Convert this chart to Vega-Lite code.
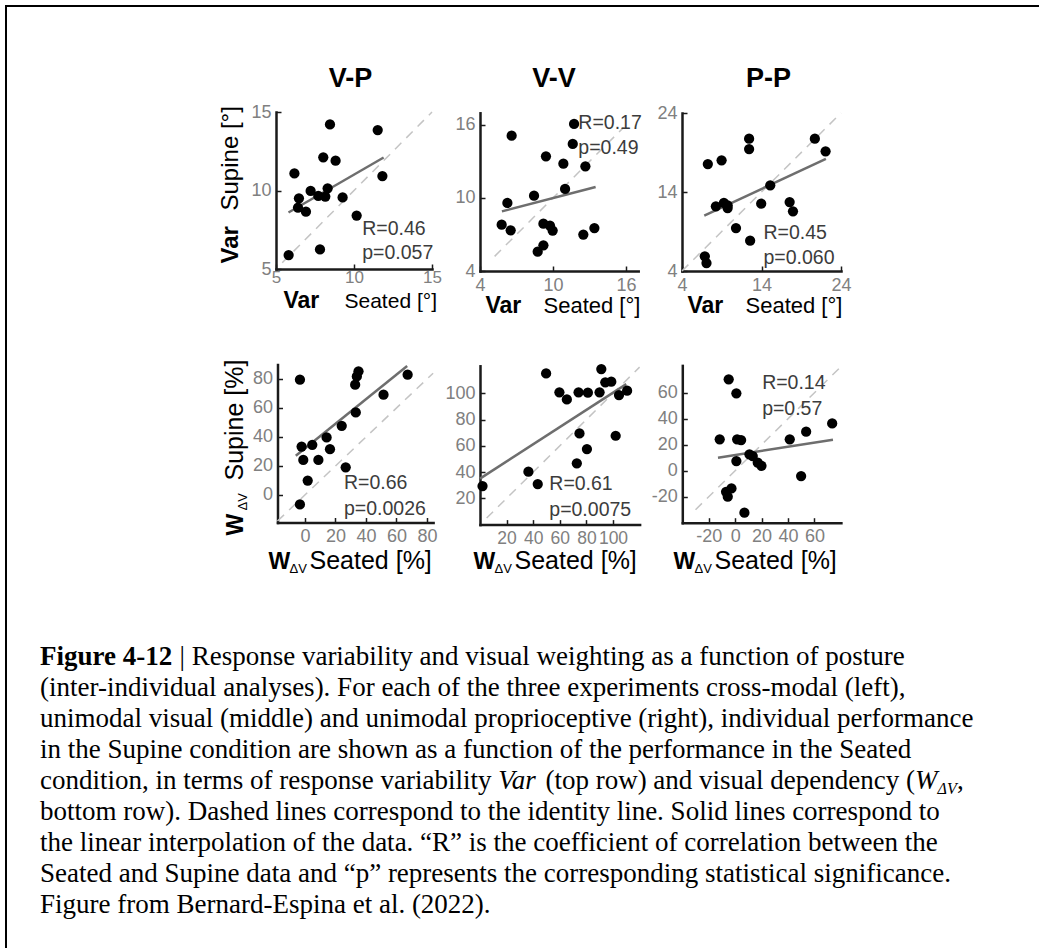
{
"$schema": "https://vega.github.io/schema/vega-lite/v6.json",
"width": 1033, "height": 942,
"autosize": {"type": "none"},
"padding": {"left": 6, "top": 6, "right": 0, "bottom": 0},
"background": "white",
"view": {"stroke": "black", "strokeWidth": 2, "strokeDash": [1033, 1975, 942, 10]},
"config": {
  "axis": {"grid": false, "domainColor": "#1a1a1a", "domainWidth": 2.5, "domainCap": "square", "tickColor": "#1a1a1a", "tickWidth": 1.5, "tickSize": -5, "labelColor": "#808080", "labelFont": "Liberation Sans", "labelFontSize": 18, "labelFlush": false, "labelOverlap": false, "labelPadding": 10, "labelExpr": "replace(datum.label, '\u2212', '-')", "titleFont": "Liberation Sans", "titleColor": "black", "titleFontWeight": "normal", "titleAlign": "left", "titleBaseline": "alphabetic"},
  "text": {"font": "Liberation Sans"}
},
"datasets": {
  "pts": [
    {"panel":"VP","seated":8.46,"supine":14.21},{"panel":"VP","seated":11.52,"supine":13.85},{"panel":"VP","seated":8.03,"supine":12.11},{"panel":"VP","seated":8.82,"supine":11.9},{"panel":"VP","seated":6.18,"supine":11.09},{"panel":"VP","seated":11.82,"supine":10.92},{"panel":"VP","seated":7.22,"supine":9.97},{"panel":"VP","seated":8.31,"supine":10.14},{"panel":"VP","seated":7.71,"supine":9.65},{"panel":"VP","seated":8.16,"supine":9.61},{"panel":"VP","seated":6.47,"supine":9.5},{"panel":"VP","seated":9.27,"supine":9.56},{"panel":"VP","seated":6.41,"supine":8.91},{"panel":"VP","seated":6.92,"supine":8.65},{"panel":"VP","seated":10.17,"supine":8.4},{"panel":"VP","seated":7.82,"supine":6.25},{"panel":"VP","seated":5.81,"supine":5.89},
    {"panel":"VV","seated":11.73,"supine":16.08},{"panel":"VV","seated":6.6,"supine":15.12},{"panel":"VV","seated":11.62,"supine":14.44},{"panel":"VV","seated":9.42,"supine":13.42},{"panel":"VV","seated":10.85,"supine":12.82},{"panel":"VV","seated":12.66,"supine":12.6},{"panel":"VV","seated":10.99,"supine":10.74},{"panel":"VV","seated":8.44,"supine":10.19},{"panel":"VV","seated":6.25,"supine":9.59},{"panel":"VV","seated":5.78,"supine":7.81},{"panel":"VV","seated":6.52,"supine":7.34},{"panel":"VV","seated":9.21,"supine":7.89},{"panel":"VV","seated":9.75,"supine":7.73},{"panel":"VV","seated":9.97,"supine":7.32},{"panel":"VV","seated":12.49,"supine":6.99},{"panel":"VV","seated":13.4,"supine":7.53},{"panel":"VV","seated":9.21,"supine":6.11},{"panel":"VV","seated":8.74,"supine":5.59},
    {"panel":"PP","seated":12.44,"supine":20.75},{"panel":"PP","seated":12.44,"supine":19.44},{"panel":"PP","seated":20.71,"supine":20.75},{"panel":"PP","seated":22.06,"supine":19.15},{"panel":"PP","seated":7.25,"supine":17.54},{"panel":"PP","seated":8.98,"supine":18.01},{"panel":"PP","seated":15.1,"supine":14.84},{"panel":"PP","seated":8.26,"supine":12.19},{"panel":"PP","seated":9.27,"supine":12.61},{"panel":"PP","seated":9.74,"supine":12.31},{"panel":"PP","seated":9.74,"supine":11.97},{"panel":"PP","seated":13.96,"supine":12.52},{"panel":"PP","seated":17.54,"supine":12.73},{"panel":"PP","seated":17.96,"supine":11.55},{"panel":"PP","seated":10.79,"supine":9.44},{"panel":"PP","seated":12.57,"supine":7.84},{"panel":"PP","seated":6.87,"supine":5.86},{"panel":"PP","seated":7.08,"supine":5.01},
    {"panel":"BL","seated":-3.3,"supine":79.5},{"panel":"BL","seated":35.1,"supine":85.3},{"panel":"BL","seated":34.0,"supine":81.8},{"panel":"BL","seated":32.9,"supine":76.1},{"panel":"BL","seated":67.3,"supine":83.0},{"panel":"BL","seated":51.5,"supine":69.2},{"panel":"BL","seated":33.3,"supine":56.9},{"panel":"BL","seated":24.1,"supine":47.7},{"panel":"BL","seated":-2.2,"supine":33.4},{"panel":"BL","seated":4.8,"supine":34.6},{"panel":"BL","seated":14.2,"supine":39.7},{"panel":"BL","seated":16.4,"supine":31.6},{"panel":"BL","seated":-1.1,"supine":24.2},{"panel":"BL","seated":8.8,"supine":24.2},{"panel":"BL","seated":26.7,"supine":19.1},{"panel":"BL","seated":1.8,"supine":9.9},{"panel":"BL","seated":-3.3,"supine":-6.5},
    {"panel":"BM","seated":49.7,"supine":115.2},{"panel":"BM","seated":91.2,"supine":118.5},{"panel":"BM","seated":94.2,"supine":108.4},{"panel":"BM","seated":98.7,"supine":108.9},{"panel":"BM","seated":59.7,"supine":100.8},{"panel":"BM","seated":65.3,"supine":95.4},{"panel":"BM","seated":74.1,"supine":100.8},{"panel":"BM","seated":81.1,"supine":100.5},{"panel":"BM","seated":89.9,"supine":100.8},{"panel":"BM","seated":110.6,"supine":102.0},{"panel":"BM","seated":104.5,"supine":98.7},{"panel":"BM","seated":74.8,"supine":69.5},{"panel":"BM","seated":102.0,"supine":67.7},{"panel":"BM","seated":80.4,"supine":57.6},{"panel":"BM","seated":72.8,"supine":46.7},{"panel":"BM","seated":36.4,"supine":40.3},{"panel":"BM","seated":43.4,"supine":30.9},{"panel":"BM","seated":1.9,"supine":29.4},
    {"panel":"BR","seated":-4.9,"supine":70.3},{"panel":"BR","seated":0.9,"supine":59.5},{"panel":"BR","seated":-11.7,"supine":24.1},{"panel":"BR","seated":1.5,"supine":24.1},{"panel":"BR","seated":4.5,"supine":23.6},{"panel":"BR","seated":0.9,"supine":7.4},{"panel":"BR","seated":10.8,"supine":12.6},{"panel":"BR","seated":13.3,"supine":11.3},{"panel":"BR","seated":17.1,"supine":6.2},{"panel":"BR","seated":19.9,"supine":3.8},{"panel":"BR","seated":41.3,"supine":24.1},{"panel":"BR","seated":53.7,"supine":30.0},{"panel":"BR","seated":73.4,"supine":36.4},{"panel":"BR","seated":49.9,"supine":-4.1},{"panel":"BR","seated":-2.8,"supine":-13.6},{"panel":"BR","seated":-6.9,"supine":-16.2},{"panel":"BR","seated":-5.6,"supine":-20.0},{"panel":"BR","seated":7.0,"supine":-32.3}
  ],
  "fit": [
    {"panel":"VP","seated":5.8,"supine":8.6},{"panel":"VP","seated":11.9,"supine":12.1},
    {"panel":"VV","seated":5.8,"supine":8.9},{"panel":"VV","seated":13.5,"supine":10.9},
    {"panel":"PP","seated":6.8,"supine":11.0},{"panel":"PP","seated":22.1,"supine":18.2},
    {"panel":"BL","seated":-6,"supine":27},{"panel":"BL","seated":67,"supine":89},
    {"panel":"BM","seated":0,"supine":35},{"panel":"BM","seated":110,"supine":107},
    {"panel":"BR","seated":-13,"supine":10},{"panel":"BR","seated":74,"supine":23.8}
  ],
  "ident": [
    {"panel":"VP","seated":5.4,"supine":5.4},{"panel":"VP","seated":15,"supine":15},
    {"panel":"VV","seated":5.2,"supine":5.2},{"panel":"VV","seated":15.8,"supine":15.8},
    {"panel":"PP","seated":4,"supine":4},{"panel":"PP","seated":24,"supine":24},
    {"panel":"BL","seated":-18,"supine":-18},{"panel":"BL","seated":84,"supine":84},
    {"panel":"BM","seated":5,"supine":5},{"panel":"BM","seated":120,"supine":120},
    {"panel":"BR","seated":-30,"supine":-30},{"panel":"BR","seated":80,"supine":80}
  ],
  "stats": [
    {"panel":"VP","label":"R=0.46\np=0.057"},
    {"panel":"VV","label":"R=0.17\np=0.49"},
    {"panel":"PP","label":"R=0.45\np=0.060"},
    {"panel":"BL","label":"R=0.66\np=0.0026"},
    {"panel":"BM","label":"R=0.61\np=0.0075"},
    {"panel":"BR","label":"R=0.14\np=0.57"}
  ],
  "caption": [
    {"line":1,"part":"bold","text":"Figure 4-12"},
    {"line":1,"part":"after","text":"| Response variability and visual weighting as a function of posture"},
    {"line":2,"part":"plain","text":"(inter-individual analyses). For each of the three experiments cross-modal (left),"},
    {"line":3,"part":"plain","text":"unimodal visual (middle) and unimodal proprioceptive (right), individual performance"},
    {"line":4,"part":"plain","text":"in the Supine condition are shown as a function of the performance in the Seated"},
    {"line":5,"part":"plain","text":"condition, in terms of response variability"},
    {"line":5,"part":"var","text":"Var"},
    {"line":5,"part":"mid","text":"(top row) and visual dependency ("},
    {"line":5,"part":"w","text":"W"},
    {"line":5,"part":"sub","text":"ΔV"},
    {"line":5,"part":"end","text":","},
    {"line":6,"part":"plain","text":"bottom row). Dashed lines correspond to the identity line. Solid lines correspond to"},
    {"line":7,"part":"plain","text":"the linear interpolation of the data. “R” is the coefficient of correlation between the"},
    {"line":8,"part":"plain","text":"Seated and Supine data and “p” represents the corresponding statistical significance."},
    {"line":9,"part":"plain","text":"Figure from Bernard-Espina et al. (2022)."}
  ]
},
"layer": [
  {
    "layer": [
      {"data": {"name": "ident"}, "transform": [{"filter": "datum.panel === 'VP'"}],
       "mark": {"type": "line", "color": "#c4c4c4", "strokeWidth": 1.5, "strokeDash": [9, 7]},
       "encoding": {
         "x": {"field": "seated", "type": "quantitative", "scale": {"domain": [5, 15], "range": [270, 426], "nice": false, "zero": false}, "axis": {"orient": "bottom", "offset": -679, "values": [5, 10, 15], "labelPadding": 5.5, "labelFontSize": 17, "title": "Seated [°]", "titleX": 338, "titleY": 38.5, "titleFontSize": 21}},
         "y": {"field": "supine", "type": "quantitative", "scale": {"domain": [5, 15], "range": [263, 106], "nice": false, "zero": false}, "axis": {"orient": "left", "offset": -270, "values": [5, 10, 15], "title": "Supine [°]", "titleX": -39, "titleY": 204, "titleFontSize": 24}}
       }},
      {"data": {"name": "fit"}, "transform": [{"filter": "datum.panel === 'VP'"}],
       "mark": {"type": "line", "color": "#6e6e6e", "strokeWidth": 2.5},
       "encoding": {
         "x": {"field": "seated", "type": "quantitative", "scale": {"domain": [5, 15], "range": [270, 426], "nice": false, "zero": false}, "axis": {"orient": "bottom", "offset": -679, "labels": false, "ticks": false, "domain": false, "title": "Var", "titleX": 277, "titleY": 38.5, "titleFontSize": 23, "titleFontWeight": "bold"}},
         "y": {"field": "supine", "type": "quantitative", "scale": {"domain": [5, 15], "range": [263, 106], "nice": false, "zero": false}, "axis": {"orient": "left", "offset": -270, "labels": false, "ticks": false, "domain": false, "title": "Var", "titleX": -39, "titleY": 257, "titleFontSize": 24, "titleFontWeight": "bold"}}
       }},
      {"data": {"name": "pts"}, "transform": [{"filter": "datum.panel === 'VP'"}],
       "mark": {"type": "point", "filled": true, "color": "black", "opacity": 1, "size": 105},
       "encoding": {
         "x": {"field": "seated", "type": "quantitative", "scale": {"domain": [5, 15], "range": [270, 426], "nice": false, "zero": false}, "axis": {"orient": "bottom", "offset": -679, "labels": false, "ticks": false, "domain": false, "title": "V-P", "titleX": 344, "titleY": -182.3, "titleFontSize": 27, "titleFontWeight": "bold", "titleAlign": "center"}},
         "y": {"field": "supine", "type": "quantitative", "scale": {"domain": [5, 15], "range": [263, 106], "nice": false, "zero": false}, "axis": null}
       }},
      {"data": {"name": "stats"}, "transform": [{"filter": "datum.panel === 'VP'"}],
       "mark": {"type": "text", "align": "left", "baseline": "alphabetic", "fontSize": 19.5, "color": "#3c3c3c", "lineBreak": "\n", "lineHeight": 24.5},
       "encoding": {
         "x": {"datum": 10.53, "type": "quantitative", "scale": {"domain": [5, 15], "range": [270, 426], "nice": false, "zero": false}, "axis": null},
         "y": {"datum": 7.17, "type": "quantitative", "scale": {"domain": [5, 15], "range": [263, 106], "nice": false, "zero": false}, "axis": null},
         "text": {"field": "label"}
       }}
    ],
    "resolve": {"axis": {"x": "independent", "y": "independent"}}
  },
  {
    "layer": [
      {"data": {"name": "ident"}, "transform": [{"filter": "datum.panel === 'VV'"}],
       "mark": {"type": "line", "color": "#c4c4c4", "strokeWidth": 1.5, "strokeDash": [9, 7]},
       "encoding": {
         "x": {"field": "seated", "type": "quantitative", "scale": {"domain": [4, 17], "range": [474, 632.2], "nice": false, "zero": false}, "axis": {"orient": "bottom", "offset": -677, "values": [4, 10, 16], "title": "Seated [°]", "titleX": 537, "titleY": 41, "titleFontSize": 22}},
         "y": {"field": "supine", "type": "quantitative", "scale": {"domain": [4, 17], "range": [265, 106.8], "nice": false, "zero": false}, "axis": {"orient": "left", "offset": -474, "values": [4, 10, 16], "title": null}}
       }},
      {"data": {"name": "fit"}, "transform": [{"filter": "datum.panel === 'VV'"}],
       "mark": {"type": "line", "color": "#6e6e6e", "strokeWidth": 2.5},
       "encoding": {
         "x": {"field": "seated", "type": "quantitative", "scale": {"domain": [4, 17], "range": [474, 632.2], "nice": false, "zero": false}, "axis": {"orient": "bottom", "offset": -677, "labels": false, "ticks": false, "domain": false, "title": "Var", "titleX": 479, "titleY": 41, "titleFontSize": 23, "titleFontWeight": "bold"}},
         "y": {"field": "supine", "type": "quantitative", "scale": {"domain": [4, 17], "range": [265, 106.8], "nice": false, "zero": false}, "axis": null}
       }},
      {"data": {"name": "pts"}, "transform": [{"filter": "datum.panel === 'VV'"}],
       "mark": {"type": "point", "filled": true, "color": "black", "opacity": 1, "size": 105},
       "encoding": {
         "x": {"field": "seated", "type": "quantitative", "scale": {"domain": [4, 17], "range": [474, 632.2], "nice": false, "zero": false}, "axis": {"orient": "bottom", "offset": -677, "labels": false, "ticks": false, "domain": false, "title": "V-V", "titleX": 547.5, "titleY": -184.3, "titleFontSize": 27, "titleFontWeight": "bold", "titleAlign": "center"}},
         "y": {"field": "supine", "type": "quantitative", "scale": {"domain": [4, 17], "range": [265, 106.8], "nice": false, "zero": false}, "axis": null}
       }},
      {"data": {"name": "stats"}, "transform": [{"filter": "datum.panel === 'VV'"}],
       "mark": {"type": "text", "align": "left", "baseline": "alphabetic", "fontSize": 19.5, "color": "#3c3c3c", "lineBreak": "\n", "lineHeight": 24.5},
       "encoding": {
         "x": {"datum": 12.08, "type": "quantitative", "scale": {"domain": [4, 17], "range": [474, 632.2], "nice": false, "zero": false}, "axis": null},
         "y": {"datum": 15.64, "type": "quantitative", "scale": {"domain": [4, 17], "range": [265, 106.8], "nice": false, "zero": false}, "axis": null},
         "text": {"field": "label"}
       }}
    ],
    "resolve": {"axis": {"x": "independent", "y": "independent"}}
  },
  {
    "layer": [
      {"data": {"name": "ident"}, "transform": [{"filter": "datum.panel === 'PP'"}],
       "mark": {"type": "line", "color": "#c4c4c4", "strokeWidth": 1.5, "strokeDash": [9, 7]},
       "encoding": {
         "x": {"field": "seated", "type": "quantitative", "scale": {"domain": [4, 24], "range": [676, 835], "nice": false, "zero": false}, "axis": {"orient": "bottom", "offset": -677, "values": [4, 14, 24], "title": "Seated [°]", "titleX": 739, "titleY": 41, "titleFontSize": 22}},
         "y": {"field": "supine", "type": "quantitative", "scale": {"domain": [4, 24], "range": [265, 107], "nice": false, "zero": false}, "axis": {"orient": "left", "offset": -676, "values": [4, 14, 24], "title": null}}
       }},
      {"data": {"name": "fit"}, "transform": [{"filter": "datum.panel === 'PP'"}],
       "mark": {"type": "line", "color": "#6e6e6e", "strokeWidth": 2.5},
       "encoding": {
         "x": {"field": "seated", "type": "quantitative", "scale": {"domain": [4, 24], "range": [676, 835], "nice": false, "zero": false}, "axis": {"orient": "bottom", "offset": -677, "labels": false, "ticks": false, "domain": false, "title": "Var", "titleX": 681, "titleY": 41, "titleFontSize": 23, "titleFontWeight": "bold"}},
         "y": {"field": "supine", "type": "quantitative", "scale": {"domain": [4, 24], "range": [265, 107], "nice": false, "zero": false}, "axis": null}
       }},
      {"data": {"name": "pts"}, "transform": [{"filter": "datum.panel === 'PP'"}],
       "mark": {"type": "point", "filled": true, "color": "black", "opacity": 1, "size": 105},
       "encoding": {
         "x": {"field": "seated", "type": "quantitative", "scale": {"domain": [4, 24], "range": [676, 835], "nice": false, "zero": false}, "axis": {"orient": "bottom", "offset": -677, "labels": false, "ticks": false, "domain": false, "title": "P-P", "titleX": 762, "titleY": -184.3, "titleFontSize": 27, "titleFontWeight": "bold", "titleAlign": "center"}},
         "y": {"field": "supine", "type": "quantitative", "scale": {"domain": [4, 24], "range": [265, 107], "nice": false, "zero": false}, "axis": null}
       }},
      {"data": {"name": "stats"}, "transform": [{"filter": "datum.panel === 'PP'"}],
       "mark": {"type": "text", "align": "left", "baseline": "alphabetic", "fontSize": 19.5, "color": "#3c3c3c", "lineBreak": "\n", "lineHeight": 24.5},
       "encoding": {
         "x": {"datum": 14.25, "type": "quantitative", "scale": {"domain": [4, 24], "range": [676, 835], "nice": false, "zero": false}, "axis": null},
         "y": {"datum": 8.0, "type": "quantitative", "scale": {"domain": [4, 24], "range": [265, 107], "nice": false, "zero": false}, "axis": null},
         "text": {"field": "label"}
       }}
    ],
    "resolve": {"axis": {"x": "independent", "y": "independent"}}
  },
  {
    "layer": [
      {"data": {"name": "ident"}, "transform": [{"filter": "datum.panel === 'BL'"}],
       "mark": {"type": "line", "color": "#c4c4c4", "strokeWidth": 1.5, "strokeDash": [9, 7]},
       "encoding": {
         "x": {"field": "seated", "type": "quantitative", "scale": {"domain": [-18, 84], "range": [271.5, 427.1], "nice": false, "zero": false}, "axis": {"orient": "bottom", "offset": -425.5, "values": [0, 20, 40, 60, 80], "title": "Seated [%]", "titleX": 303, "titleY": 45.5, "titleFontSize": 25}},
         "y": {"field": "supine", "type": "quantitative", "scale": {"domain": [-19, 90], "range": [516.5, 358.5], "nice": false, "zero": false}, "axis": {"orient": "left", "offset": -271.5, "values": [0, 20, 40, 60, 80], "title": "Supine [%]", "titleX": -35.5, "titleY": 474, "titleFontSize": 25}}
       }},
      {"data": {"name": "fit"}, "transform": [{"filter": "datum.panel === 'BL'"}],
       "mark": {"type": "line", "color": "#6e6e6e", "strokeWidth": 2.5},
       "encoding": {
         "x": {"field": "seated", "type": "quantitative", "scale": {"domain": [-18, 84], "range": [271.5, 427.1], "nice": false, "zero": false}, "axis": {"orient": "bottom", "offset": -425.5, "labels": false, "ticks": false, "domain": false, "title": "W", "titleX": 262, "titleY": 45.5, "titleFontSize": 23, "titleFontWeight": "bold"}},
         "y": {"field": "supine", "type": "quantitative", "scale": {"domain": [-19, 90], "range": [516.5, 358.5], "nice": false, "zero": false}, "axis": {"orient": "left", "offset": -271.5, "labels": false, "ticks": false, "domain": false, "title": "W", "titleX": -35.5, "titleY": 529, "titleFontSize": 23, "titleFontWeight": "bold"}}
       }},
      {"data": {"name": "pts"}, "transform": [{"filter": "datum.panel === 'BL'"}],
       "mark": {"type": "point", "filled": true, "color": "black", "opacity": 1, "size": 105},
       "encoding": {
         "x": {"field": "seated", "type": "quantitative", "scale": {"domain": [-18, 84], "range": [271.5, 427.1], "nice": false, "zero": false}, "axis": {"orient": "bottom", "offset": -425.5, "labels": false, "ticks": false, "domain": false, "title": "ΔV", "titleX": 283, "titleY": 49.5, "titleFontSize": 13}},
         "y": {"field": "supine", "type": "quantitative", "scale": {"domain": [-19, 90], "range": [516.5, 358.5], "nice": false, "zero": false}, "axis": {"orient": "left", "offset": -271.5, "labels": false, "ticks": false, "domain": false, "title": "ΔV", "titleX": -31.5, "titleY": 504, "titleFontSize": 13}}
       }},
      {"data": {"name": "stats"}, "transform": [{"filter": "datum.panel === 'BL'"}],
       "mark": {"type": "text", "align": "left", "baseline": "alphabetic", "fontSize": 19.5, "color": "#3c3c3c", "lineBreak": "\n", "lineHeight": 26},
       "encoding": {
         "x": {"datum": 25.6, "type": "quantitative", "scale": {"domain": [-18, 84], "range": [271.5, 427.1], "nice": false, "zero": false}, "axis": null},
         "y": {"datum": 3.9, "type": "quantitative", "scale": {"domain": [-19, 90], "range": [516.5, 358.5], "nice": false, "zero": false}, "axis": null},
         "text": {"field": "label"}
       }}
    ],
    "resolve": {"axis": {"x": "independent", "y": "independent"}}
  },
  {
    "layer": [
      {"data": {"name": "ident"}, "transform": [{"filter": "datum.panel === 'BM'"}],
       "mark": {"type": "line", "color": "#c4c4c4", "strokeWidth": 1.5, "strokeDash": [9, 7]},
       "encoding": {
         "x": {"field": "seated", "type": "quantitative", "scale": {"domain": [0, 120], "range": [474, 633.6], "nice": false, "zero": false}, "axis": {"orient": "bottom", "offset": -423.4, "values": [20, 40, 60, 80, 100], "labelFontSize": 17.5, "labelPadding": 9.5, "title": "Seated [%]", "titleX": 508, "titleY": 44, "titleFontSize": 25}},
         "y": {"field": "supine", "type": "quantitative", "scale": {"domain": [0, 121], "range": [518.6, 359.8], "nice": false, "zero": false}, "axis": {"orient": "left", "offset": -474, "values": [20, 40, 60, 80, 100], "title": null}}
       }},
      {"data": {"name": "fit"}, "transform": [{"filter": "datum.panel === 'BM'"}],
       "mark": {"type": "line", "color": "#6e6e6e", "strokeWidth": 2.5},
       "encoding": {
         "x": {"field": "seated", "type": "quantitative", "scale": {"domain": [0, 120], "range": [474, 633.6], "nice": false, "zero": false}, "axis": {"orient": "bottom", "offset": -423.4, "labels": false, "ticks": false, "domain": false, "title": "W", "titleX": 467, "titleY": 44, "titleFontSize": 23, "titleFontWeight": "bold"}},
         "y": {"field": "supine", "type": "quantitative", "scale": {"domain": [0, 121], "range": [518.6, 359.8], "nice": false, "zero": false}, "axis": null}
       }},
      {"data": {"name": "pts"}, "transform": [{"filter": "datum.panel === 'BM'"}],
       "mark": {"type": "point", "filled": true, "color": "black", "opacity": 1, "size": 105},
       "encoding": {
         "x": {"field": "seated", "type": "quantitative", "scale": {"domain": [0, 120], "range": [474, 633.6], "nice": false, "zero": false}, "axis": {"orient": "bottom", "offset": -423.4, "labels": false, "ticks": false, "domain": false, "title": "ΔV", "titleX": 488, "titleY": 48, "titleFontSize": 13}},
         "y": {"field": "supine", "type": "quantitative", "scale": {"domain": [0, 121], "range": [518.6, 359.8], "nice": false, "zero": false}, "axis": null}
       }},
      {"data": {"name": "stats"}, "transform": [{"filter": "datum.panel === 'BM'"}],
       "mark": {"type": "text", "align": "left", "baseline": "alphabetic", "fontSize": 19.5, "color": "#3c3c3c", "lineBreak": "\n", "lineHeight": 26},
       "encoding": {
         "x": {"datum": 52.1, "type": "quantitative", "scale": {"domain": [0, 120], "range": [474, 633.6], "nice": false, "zero": false}, "axis": null},
         "y": {"datum": 26.4, "type": "quantitative", "scale": {"domain": [0, 121], "range": [518.6, 359.8], "nice": false, "zero": false}, "axis": null},
         "text": {"field": "label"}
       }}
    ],
    "resolve": {"axis": {"x": "independent", "y": "independent"}}
  },
  {
    "layer": [
      {"data": {"name": "ident"}, "transform": [{"filter": "datum.panel === 'BR'"}],
       "mark": {"type": "line", "color": "#c4c4c4", "strokeWidth": 1.5, "strokeDash": [9, 7]},
       "encoding": {
         "x": {"field": "seated", "type": "quantitative", "scale": {"domain": [-40, 80], "range": [676.3, 834.9], "nice": false, "zero": false}, "axis": {"orient": "bottom", "offset": -425.3, "values": [-20, 0, 20, 40, 60], "title": "Seated [%]", "titleX": 708, "titleY": 45.3, "titleFontSize": 25}},
         "y": {"field": "supine", "type": "quantitative", "scale": {"domain": [-40, 81], "range": [516.7, 359.4], "nice": false, "zero": false}, "axis": {"orient": "left", "offset": -676.3, "values": [-20, 0, 20, 40, 60], "title": null}}
       }},
      {"data": {"name": "fit"}, "transform": [{"filter": "datum.panel === 'BR'"}],
       "mark": {"type": "line", "color": "#6e6e6e", "strokeWidth": 2.5},
       "encoding": {
         "x": {"field": "seated", "type": "quantitative", "scale": {"domain": [-40, 80], "range": [676.3, 834.9], "nice": false, "zero": false}, "axis": {"orient": "bottom", "offset": -425.3, "labels": false, "ticks": false, "domain": false, "title": "W", "titleX": 667, "titleY": 45.3, "titleFontSize": 23, "titleFontWeight": "bold"}},
         "y": {"field": "supine", "type": "quantitative", "scale": {"domain": [-40, 81], "range": [516.7, 359.4], "nice": false, "zero": false}, "axis": null}
       }},
      {"data": {"name": "pts"}, "transform": [{"filter": "datum.panel === 'BR'"}],
       "mark": {"type": "point", "filled": true, "color": "black", "opacity": 1, "size": 105},
       "encoding": {
         "x": {"field": "seated", "type": "quantitative", "scale": {"domain": [-40, 80], "range": [676.3, 834.9], "nice": false, "zero": false}, "axis": {"orient": "bottom", "offset": -425.3, "labels": false, "ticks": false, "domain": false, "title": "ΔV", "titleX": 688, "titleY": 49.3, "titleFontSize": 13}},
         "y": {"field": "supine", "type": "quantitative", "scale": {"domain": [-40, 81], "range": [516.7, 359.4], "nice": false, "zero": false}, "axis": null}
       }},
      {"data": {"name": "stats"}, "transform": [{"filter": "datum.panel === 'BR'"}],
       "mark": {"type": "text", "align": "left", "baseline": "alphabetic", "fontSize": 19.5, "color": "#3c3c3c", "lineBreak": "\n", "lineHeight": 26},
       "encoding": {
         "x": {"datum": 20.4, "type": "quantitative", "scale": {"domain": [-40, 80], "range": [676.3, 834.9], "nice": false, "zero": false}, "axis": null},
         "y": {"datum": 62.6, "type": "quantitative", "scale": {"domain": [-40, 81], "range": [516.7, 359.4], "nice": false, "zero": false}, "axis": null},
         "text": {"field": "label"}
       }}
    ],
    "resolve": {"axis": {"x": "independent", "y": "independent"}}
  },
  {
    "data": {"name": "caption"},
    "encoding": {
      "x": {"datum": 0, "type": "quantitative", "scale": {"domain": [0, 1], "range": [34, 994], "nice": false, "zero": false}, "axis": null},
      "y": {"field": "line", "type": "quantitative", "scale": {"domain": [1, 9], "range": [659, 907], "nice": false, "zero": false}, "axis": null},
      "text": {"field": "text"}
    },
    "layer": [
      {"transform": [{"filter": "datum.part === 'bold'"}], "mark": {"type": "text", "font": "Liberation Serif", "fontSize": 27, "fontWeight": "bold", "align": "left", "baseline": "alphabetic", "color": "black"}},
      {"transform": [{"filter": "datum.part === 'after'"}], "mark": {"type": "text", "font": "Liberation Serif", "fontSize": 27, "align": "left", "baseline": "alphabetic", "color": "black", "dx": 139.5}},
      {"transform": [{"filter": "datum.part === 'plain'"}], "mark": {"type": "text", "font": "Liberation Serif", "fontSize": 27, "align": "left", "baseline": "alphabetic", "color": "black"}},
      {"transform": [{"filter": "datum.part === 'var'"}], "mark": {"type": "text", "font": "Liberation Serif", "fontSize": 27, "fontStyle": "italic", "align": "left", "baseline": "alphabetic", "color": "black", "dx": 458.2}},
      {"transform": [{"filter": "datum.part === 'mid'"}], "mark": {"type": "text", "font": "Liberation Serif", "fontSize": 27, "align": "left", "baseline": "alphabetic", "color": "black", "dx": 505.4}},
      {"transform": [{"filter": "datum.part === 'w'"}], "mark": {"type": "text", "font": "Liberation Serif", "fontSize": 27, "fontStyle": "italic", "align": "left", "baseline": "alphabetic", "color": "black", "dx": 875}},
      {"transform": [{"filter": "datum.part === 'sub'"}], "mark": {"type": "text", "font": "Liberation Serif", "fontSize": 16, "fontStyle": "italic", "align": "left", "baseline": "alphabetic", "color": "black", "dx": 897.5, "dy": 5}},
      {"transform": [{"filter": "datum.part === 'end'"}], "mark": {"type": "text", "font": "Liberation Serif", "fontSize": 27, "align": "left", "baseline": "alphabetic", "color": "black", "dx": 917}}
    ]
  }
],
"resolve": {"scale": {"x": "independent", "y": "independent"}, "axis": {"x": "independent", "y": "independent"}}
}
